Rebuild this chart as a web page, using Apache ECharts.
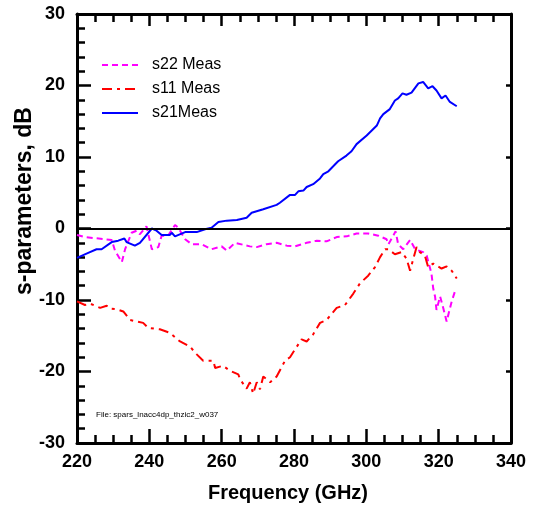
<!DOCTYPE html>
<html>
<head>
<meta charset="utf-8">
<script src="https://cdn.jsdelivr.net/npm/echarts@6/dist/echarts.min.js"></script>
<style>
html, body { margin: 0; padding: 0; background: #fff; }
#chart { width: 533px; height: 508px; }
</style>
</head>
<body>
<div id="chart"></div>
<script>
// s21 测量值
const s21Freq = [220, 223.1, 225.4, 226.8, 229.6, 231.4, 233.1, 233.7, 236, 237.4, 240.7, 242, 243.4, 245.7, 246.2, 247.1, 249.9, 253.1, 255.4, 257.2, 259.1, 261.4, 264.2, 266.9, 268.3, 271.5, 275.2, 276.1, 278.9, 280.3, 281.2, 282.6, 283.5, 285.3, 287.2, 288.1, 289.5, 292.2, 294.5, 295.9, 297.3, 300.1, 301.5, 302.9, 303.8, 304.7, 306.5, 307.9, 308.8, 310, 311.1, 312.5, 314.4, 315.7, 317.1, 318.3, 319.4, 320.8, 321.9, 323.1, 325]
const s21Db = [-4.1, -3.4, -2.9, -2.9, -1.9, -1.7, -1.4, -1.9, -2.4, -2.0, 0.0, -0.3, -0.9, -0.9, -0.6, -1.1, -0.5, -0.5, -0.1, 0.1, 0.9, 1.1, 1.2, 1.5, 2.2, 2.7, 3.3, 3.6, 4.7, 4.7, 5.2, 5.3, 5.8, 6.2, 7.0, 7.6, 8.0, 9.4, 10.2, 10.8, 11.8, 13.0, 13.7, 14.4, 15.4, 16.0, 16.7, 17.9, 18.2, 18.9, 18.7, 19.0, 20.3, 20.5, 19.6, 19.9, 19.3, 18.2, 18.6, 17.7, 17.1]

// s22 测量值
const s22Freq = [220, 222.2, 227.7, 229.6, 230.5, 232.4, 233.3, 235.1, 236.5, 237.4, 239.2, 240.7, 242.5, 243.4, 245.2, 247.1, 248, 249.9, 251.7, 254.5, 257.2, 260, 261.4, 263.7, 267.8, 269.7, 272.4, 275.2, 278, 280.3, 283.5, 286.3, 289, 291.8, 294.6, 297.3, 300.5, 303.3, 305.6, 306.1, 308.1, 308.8, 310.2, 312.1, 313.5, 315.7, 316.7, 318, 318.5, 319, 319.4, 320.4, 321.3, 322.2, 322.7, 323.6, 324.5]
const s22Db = [-0.9, -1.2, -1.5, -1.6, -3.1, -4.7, -2.9, -0.6, -0.3, -0.8, 0.3, -2.9, -2.6, -1.0, -1.0, 0.5, 0.1, -1.5, -2.2, -2.2, -2.9, -2.5, -3.1, -2.0, -2.5, -2.6, -2.2, -2.0, -2.4, -2.5, -2.0, -1.7, -1.8, -1.2, -1.1, -0.7, -0.7, -1.0, -1.5, -2.2, -0.4, -2.2, -2.9, -1.6, -2.9, -3.3, -3.8, -6.3, -8.4, -9.5, -11.4, -9.5, -11.2, -13.0, -13.2, -10.2, -8.8]

// s11 测量值
const s11Freq = [220, 222.2, 223.6, 226.4, 228.2, 229.1, 231, 232.8, 234.7, 238.3, 239.7, 242.9, 245.7, 248.5, 251.2, 253.1, 254.9, 257.7, 258.2, 260.4, 262.3, 264.6, 265.1, 266.9, 267.8, 268.7, 269.7, 270.6, 271.5, 273.4, 275.2, 277.5, 278.9, 280.3, 282.1, 283.5, 285.3, 287.2, 289, 291.8, 294.1, 296.4, 298.2, 300.5, 302.4, 303.8, 305.2, 306.1, 307.9, 309.7, 311.1, 312.1, 313, 313.9, 314.8, 316.2, 317.1, 318.5, 320.8, 322.2, 323.6, 325]
const s11Db = [-10.2, -10.7, -10.5, -11.1, -10.8, -11.2, -11.3, -11.6, -12.8, -13.2, -13.9, -14.1, -14.6, -15.8, -16.5, -17.6, -18.5, -18.5, -19.5, -19.2, -19.9, -20.4, -21.1, -22.4, -21.5, -23.1, -21.5, -22.5, -20.7, -21.5, -20.7, -18.5, -18.0, -16.9, -15.5, -15.8, -14.8, -13.2, -12.8, -11.1, -10.7, -9.1, -7.7, -6.6, -5.4, -4.0, -2.9, -2.9, -3.6, -3.3, -4.2, -5.9, -4.2, -2.6, -3.3, -3.8, -5.4, -4.9, -5.6, -5.3, -5.9, -7.0]

const fileNote = 'File: spars_lnacc4dp_thzic2_w037'
const font = '"Liberation Sans", Arial, sans-serif'

const toPairs = (xs, ys) => xs.map((x, i) => [x, ys[i]])

const chart = echarts.init(document.getElementById('chart'))

// 外框四条轴
const tickStyle = { color: '#000', width: 2.5 }
const xBase = {
    type: 'value', min: 220, max: 340, interval: 20,
    splitLine: { show: false },
    axisLine: { show: true, onZero: false, lineStyle: { color: '#000', width: 3 } }
}
const yBase = {
    type: 'value', min: -30, max: 30, interval: 10,
    splitLine: { show: false },
    axisLine: { show: true, onZero: false, lineStyle: { color: '#000', width: 3 } }
}

const options = {
    animation: false,
    grid: { left: 77, top: 14, width: 434, height: 435 },
    legend: {
        orient: 'vertical',
        left: 96,
        top: 52,
        itemWidth: 36,
        itemHeight: 12,
        itemGap: 8,
        itemStyle: { opacity: 0 },
        data: ['s22 Meas', 's11 Meas', 's21Meas'],
        textStyle: { fontFamily: font, fontSize: 16, color: '#000', lineHeight: 16, padding: [0, 0, 0, 9] }
    },
    xAxis: [
        {
            ...xBase,
            position: 'bottom',
            name: 'Frequency (GHz)',
            nameLocation: 'middle',
            nameGap: 40,
            nameTextStyle: { fontFamily: font, fontSize: 20, fontWeight: 'bold', color: '#000', padding: [0, 12, 0, 0] },
            axisTick: { inside: true, length: 14, lineStyle: tickStyle },
            minorTick: { show: true, splitNumber: 4, length: 8, lineStyle: tickStyle },
            axisLabel: { margin: 10, fontFamily: font, fontSize: 18, fontWeight: 'bold', color: '#000' }
        },
        {
            ...xBase,
            position: 'top',
            axisTick: { inside: true, length: 12, lineStyle: tickStyle },
            minorTick: { show: true, splitNumber: 4, length: 8, lineStyle: tickStyle },
            axisLabel: { show: false }
        }
    ],
    yAxis: [
        {
            ...yBase,
            position: 'left',
            axisTick: { inside: true, length: 14, lineStyle: tickStyle },
            minorTick: { show: true, splitNumber: 5, length: 8, lineStyle: tickStyle },
            axisLabel: { margin: 12, fontFamily: font, fontSize: 18, fontWeight: 'bold', color: '#000' }
        },
        {
            ...yBase,
            position: 'right',
            axisTick: { inside: true, length: 5, lineStyle: tickStyle },
            axisLabel: { show: false }
        }
    ],
    graphic: [
        {
            type: 'text', x: 25, y: 201, rotation: Math.PI / 2,
            style: {
                text: 's-parameters, dB', fill: '#000', align: 'center', verticalAlign: 'middle',
                font: 'bold 23px ' + font
            }
        },
        {
            type: 'text', x: 96, y: 415,
            style: {
                text: fileNote, fill: '#000', align: 'left', verticalAlign: 'middle',
                font: '8px ' + font
            }
        }
    ],
    series: [
        {
            name: 's22 Meas',
            type: 'line',
            symbol: 'none',
            data: toPairs(s22Freq, s22Db),
            lineStyle: { color: '#FF00FF', width: 2, type: [6, 4] },
            itemStyle: { color: '#FF00FF' }
        },
        {
            name: 's11 Meas',
            type: 'line',
            symbol: 'none',
            data: toPairs(s11Freq, s11Db),
            lineStyle: { color: '#FF0000', width: 2, type: [10, 5, 3, 5] },
            itemStyle: { color: '#FF0000' }
        },
        {
            name: 's21Meas',
            type: 'line',
            symbol: 'none',
            data: toPairs(s21Freq, s21Db),
            lineStyle: { color: '#0000FF', width: 2 },
            itemStyle: { color: '#0000FF' },
            // 0 dB 参考线
            markLine: {
                silent: true,
                symbol: ['none', 'none'],
                label: { show: false },
                lineStyle: { color: '#000', width: 2, type: 'solid' },
                data: [{ yAxis: 0 }]
            }
        }
    ]
}

chart.setOption(options)
</script>
</body>
</html>
